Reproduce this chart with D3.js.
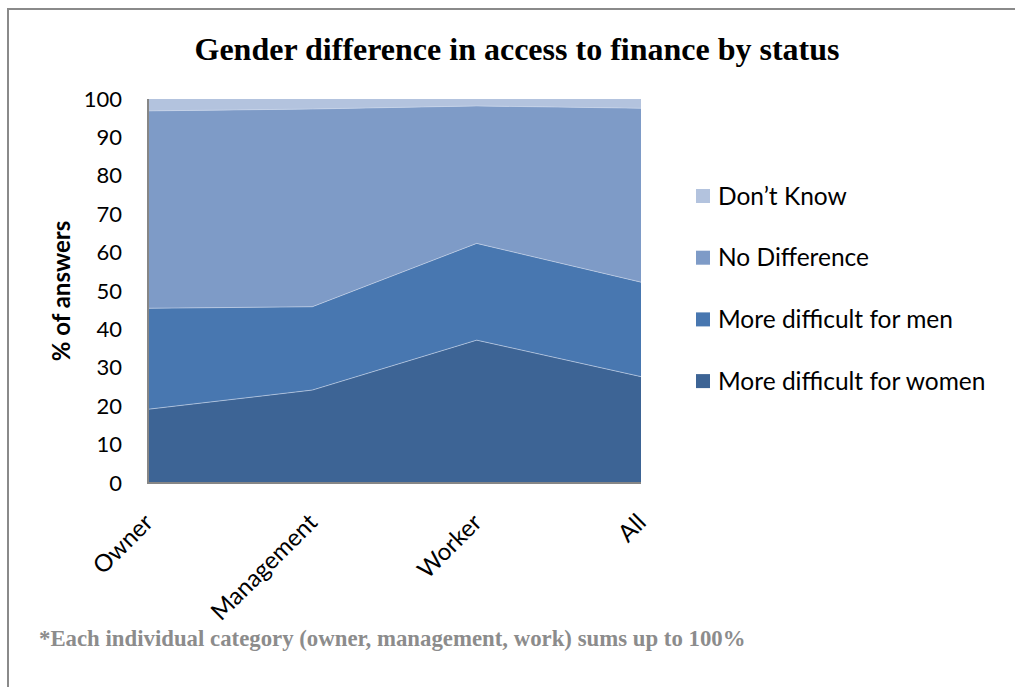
<!DOCTYPE html>
<html>
<head>
<meta charset="utf-8">
<script src="https://cdn.jsdelivr.net/npm/d3@7"></script>
<style>
  html, body { margin: 0; padding: 0; background: #fff; }
  svg { display: block; }
</style>
</head>
<body>
<svg id="chart" width="1015" height="687"></svg>
<script>
// ---- Data ----
const categories = ["Owner", "Management", "Worker", "All"];
const moreDifficultWomen = [19.2, 24.2, 37.2, 27.7];
const moreDifficultMen   = [26.3, 21.7, 25.2, 24.6];
const noDifference       = [51.4, 51.5, 35.8, 45.3];
const dontKnow           = [3.1, 2.6, 1.8, 2.4];
const seriesNames = ["More difficult for women", "More difficult for men", "No Difference", "Don\u2019t Know"];
const seriesColors = ["#3d6495", "#4877b0", "#7e9bc7", "#b3c3de"];
const yTicks = [0, 10, 20, 30, 40, 50, 60, 70, 80, 90, 100];
const titleText = "Gender difference in access to finance by status";
const yAxisTitle = "% of answers";
const footnote = "*Each individual category (owner, management, work) sums up to 100%";

// ---- Layout ----
const svg = d3.select("#chart");
const plot = { left: 148, right: 641, top: 99, bottom: 483 };

svg.append("rect")
  .attr("x", 8).attr("y", 9).attr("width", 1030).attr("height", 700)
  .attr("fill", "none").attr("stroke", "#8a8a8a").attr("stroke-width", 2);

const x = d3.scalePoint().domain(categories).range([plot.left, plot.right]);
const y = d3.scaleLinear().domain([0, 100]).range([plot.bottom, plot.top]);

const rows = categories.map((c, i) => ({
  cat: c,
  s0: moreDifficultWomen[i],
  s1: moreDifficultMen[i],
  s2: noDifference[i],
  s3: dontKnow[i]
}));
const stack = d3.stack().keys(["s0", "s1", "s2", "s3"]);
const layers = stack(rows);

const area = d3.area()
  .x(d => x(d.data.cat))
  .y0(d => y(d[0]))
  .y1(d => y(d[1]));

svg.append("g").selectAll("path")
  .data(layers)
  .join("path")
  .attr("d", area)
  .attr("fill", (d, i) => seriesColors[i])
  .attr("stroke", "none");

// thin light boundary lines on top of each layer
const line = d3.line().x(d => x(d.data.cat)).y(d => y(d[1]));
svg.append("g").selectAll("path")
  .data(layers.slice(0, 3))
  .join("path")
  .attr("d", line)
  .attr("fill", "none")
  .attr("stroke", "#c9d6ea")
  .attr("stroke-opacity", 0.8)
  .attr("stroke-width", 0.8);

// Axes lines
svg.append("line")
  .attr("x1", plot.left).attr("x2", plot.left)
  .attr("y1", plot.top).attr("y2", plot.bottom + 1)
  .attr("stroke", "#868686").attr("stroke-width", 2);
svg.append("line")
  .attr("x1", plot.left - 1).attr("x2", plot.right)
  .attr("y1", plot.bottom).attr("y2", plot.bottom)
  .attr("stroke", "#868686").attr("stroke-width", 2);

const sans = "Lato, 'Open Sans', sans-serif";

// Y axis labels
const yAxis = d3.axisLeft(y).tickValues(yTicks).tickSize(0).tickPadding(0);
const yg = svg.append("g").attr("transform", `translate(${plot.left - 26},0)`).call(yAxis);
yg.select(".domain").remove();
yg.selectAll("text")
  .attr("font-family", sans)
  .attr("font-size", 22)
  .attr("fill", "#000");

// X axis labels
const xAxis = d3.axisBottom(x).tickSize(0).tickPadding(0);
const xg = svg.append("g").attr("transform", `translate(0,${plot.bottom})`).call(xAxis);
xg.select(".domain").remove();
xg.selectAll(".tick text")
  .attr("font-family", sans)
  .attr("font-size", 24)
  .attr("fill", "#000")
  .attr("text-anchor", "end")
  .attr("dy", 0)
  .attr("y", 0)
  .attr("transform", "translate(6,41) rotate(-45)");

// Title
svg.append("text")
  .attr("x", 517).attr("y", 60)
  .attr("text-anchor", "middle")
  .attr("font-family", "'Liberation Serif', 'Times New Roman', serif")
  .attr("font-weight", "bold")
  .attr("font-size", 32)
  .attr("fill", "#000")
  .text(titleText);

// Y axis title
svg.append("text")
  .attr("transform", "translate(70,291) rotate(-90)")
  .attr("text-anchor", "middle")
  .attr("font-family", sans)
  .attr("font-weight", "bold")
  .attr("font-size", 24)
  .attr("fill", "#000")
  .text(yAxisTitle);

// Legend (top to bottom: Don't Know ... women)
const legendOrder = [3, 2, 1, 0];
const lg = svg.append("g");
legendOrder.forEach((si, k) => {
  const cy = 196 + k * 61.7;
  lg.append("rect")
    .attr("x", 696).attr("y", cy - 7)
    .attr("width", 14).attr("height", 14)
    .attr("fill", seriesColors[si]);
  lg.append("text")
    .attr("x", 718).attr("y", cy)
    .attr("dy", "0.35em")
    .attr("font-family", sans)
    .attr("font-size", 24.5)
    .attr("fill", "#000")
    .text(seriesNames[si]);
});

// Footnote
svg.append("text")
  .attr("x", 39).attr("y", 646)
  .attr("font-family", "'Liberation Serif', 'Times New Roman', serif")
  .attr("font-weight", "bold")
  .attr("font-size", 22.8)
  .attr("fill", "#8c8c8c")
  .text(footnote);
</script>
</body>
</html>
